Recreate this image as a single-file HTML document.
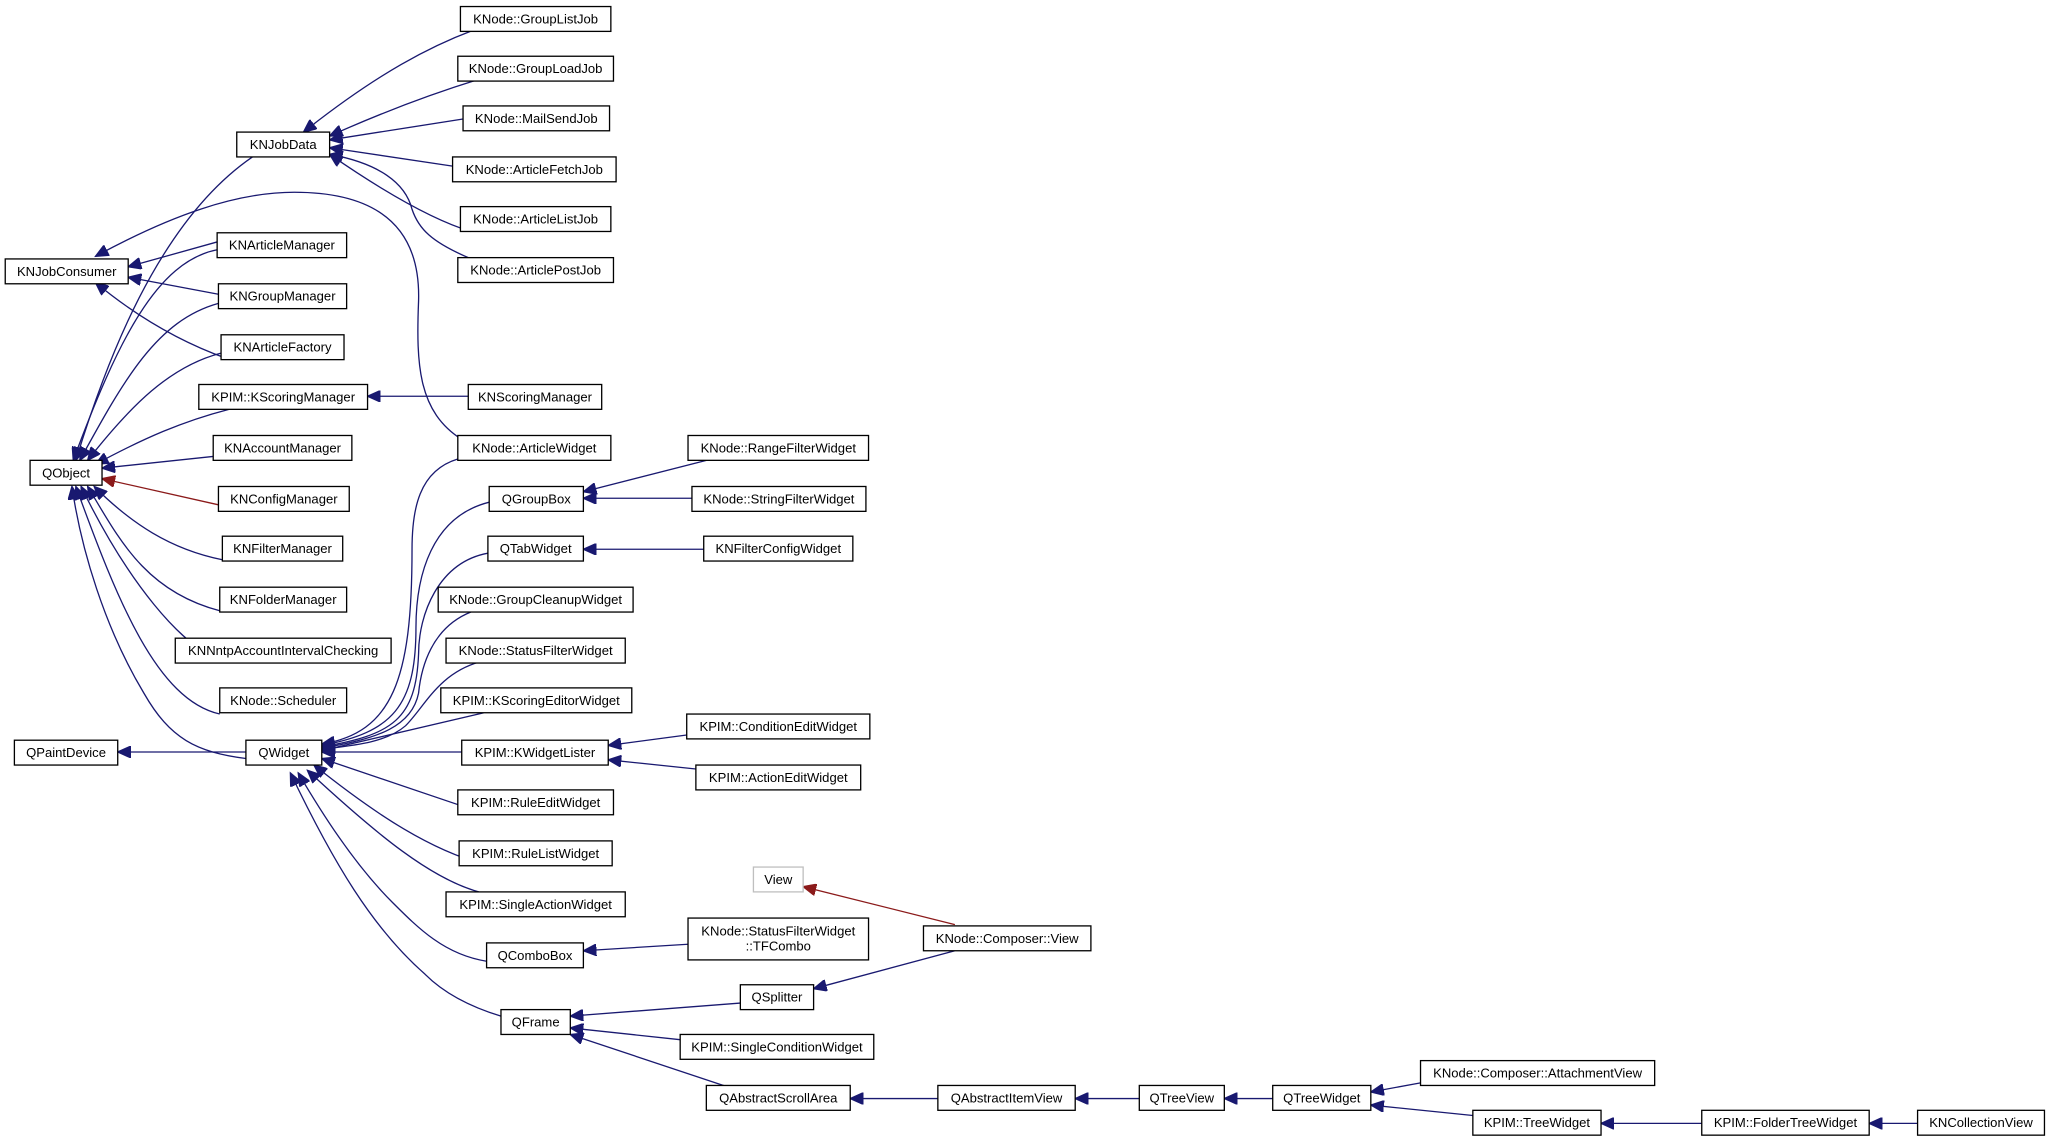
<!DOCTYPE html>
<html><head><meta charset="utf-8"><style>
html,body{margin:0;padding:0;background:#fff;}
svg{display:block;}
text{font-family:"Liberation Sans",Arial,sans-serif;font-size:10px;text-anchor:middle;dominant-baseline:central;fill:#000;}
rect{fill:#fff;stroke:#000;stroke-width:1;}
path{fill:none;stroke:#191970;stroke-width:1;}
path.r{stroke:#8b1a1a;}
</style></head><body>
<svg width="2051" height="1143" viewBox="0 0 1568 874" preserveAspectRatio="none" xmlns="http://www.w3.org/2000/svg">
<defs>
<marker id="a" markerUnits="userSpaceOnUse" markerWidth="11" markerHeight="9" refX="10" refY="4.5" orient="auto"><path d="M0,0 L10,4.5 L0,9 z" style="fill:#191970;stroke:#191970"/></marker>
<marker id="ar" markerUnits="userSpaceOnUse" markerWidth="11" markerHeight="9" refX="10" refY="4.5" orient="auto"><path d="M0,0 L10,4.5 L0,9 z" style="fill:#8b1a1a;stroke:#8b1a1a"/></marker>
</defs>
<g marker-end="url(#a)">
<path d="M362,23 C330,35 290,55 232,101" marker-end="url(#a)"/>
<path d="M365,61 Q310,78 252,104" marker-end="url(#a)"/>
<path d="M354,91 L252,107" marker-end="url(#a)"/>
<path d="M346,127 L252,113" marker-end="url(#a)"/>
<path d="M360,177 Q320,165 252,118" marker-end="url(#a)"/>
<path d="M358,197 C330,185 320,175 315,160 C310,140 290,125 252,118" marker-end="url(#a)"/>
<path d="M193,120 C120,170 80,280 58,352" marker-end="url(#a)"/>
<path d="M166,185 L98,204" marker-end="url(#a)"/>
<path d="M167,225 L98,212" marker-end="url(#a)"/>
<path d="M173,274 Q120,255 73,216" marker-end="url(#a)"/>
<path d="M353,336 C320,315 318,280 320,230 C322,160 270,147 225,147 C180,147 130,165 73,196" marker-end="url(#a)"/>
<path d="M166,191 C120,200 90,260 56,352" marker-end="url(#a)"/>
<path d="M167,232 C120,245 95,290 61,352" marker-end="url(#a)"/>
<path d="M169,270 C130,280 100,310 67,352" marker-end="url(#a)"/>
<path d="M175,313 C140,322 110,335 73,355" marker-end="url(#a)"/>
<path d="M163,349 L78,358" marker-end="url(#a)"/>
<path class="r" d="M167,386 L78,366" marker-end="url(#ar)"/>
<path d="M170,428 C130,420 100,400 72,372" marker-end="url(#a)"/>
<path d="M168,467 C110,452 90,410 67,372" marker-end="url(#a)"/>
<path d="M175,506 C140,500 95,440 62,372" marker-end="url(#a)"/>
<path d="M168,546 C120,535 90,460 58,372" marker-end="url(#a)"/>
<path d="M188,580 C150,575 130,565 110,530 C80,480 62,420 55,372" marker-end="url(#a)"/>
<path d="M358,303 L281,303" marker-end="url(#a)"/>
<path d="M188,575 L90,575" marker-end="url(#a)"/>
<path d="M350,351 C320,360 315,390 315,420 C315,520 300,560 246,569" marker-end="url(#a)"/>
<path d="M374,384 C330,395 318,440 318,480 C318,540 300,560 246,570" marker-end="url(#a)"/>
<path d="M373,423 C335,430 320,470 320,500 C318,550 300,562 246,571" marker-end="url(#a)"/>
<path d="M360,468 C330,480 322,510 320,530 C315,555 290,565 246,572" marker-end="url(#a)"/>
<path d="M367,506 C335,515 325,540 310,555 C295,568 270,570 246,573" marker-end="url(#a)"/>
<path d="M370,545 L246,574" marker-end="url(#a)"/>
<path d="M353,575 L246,575" marker-end="url(#a)"/>
<path d="M370,622 L246,580" marker-end="url(#a)"/>
<path d="M370,661 C330,650 290,625 240,585" marker-end="url(#a)"/>
<path d="M366,682 C330,672 290,640 235,589" marker-end="url(#a)"/>
<path d="M372,735 C340,730 320,710 300,690 C270,660 245,620 228,591" marker-end="url(#a)"/>
<path d="M383,777 C360,770 340,760 325,745 C285,710 255,660 222,591" marker-end="url(#a)"/>
<path d="M540,352 L446,376" marker-end="url(#a)"/>
<path d="M529,381 L446,381" marker-end="url(#a)"/>
<path d="M538,420 L446,420" marker-end="url(#a)"/>
<path d="M525,562 L465,570" marker-end="url(#a)"/>
<path d="M532,588 L465,581" marker-end="url(#a)"/>
<path d="M526,722 L446,727" marker-end="url(#a)"/>
<path d="M566,767 L436,777" marker-end="url(#a)"/>
<path d="M520,795 L436,786" marker-end="url(#a)"/>
<path d="M556,831 L436,791" marker-end="url(#a)"/>
<path class="r" d="M730,707 L614,678" marker-end="url(#ar)"/>
<path d="M730,727 L622,756" marker-end="url(#a)"/>
<path d="M717,840 L650,840" marker-end="url(#a)"/>
<path d="M871,840 L822,840" marker-end="url(#a)"/>
<path d="M973,840 L936,840" marker-end="url(#a)"/>
<path d="M1086,828 L1048,835" marker-end="url(#a)"/>
<path d="M1126,853 L1048,845" marker-end="url(#a)"/>
<path d="M1301,859 L1224,859" marker-end="url(#a)"/>
<path d="M1466,859 L1429,859" marker-end="url(#a)"/>
</g>
<g>
<rect x="352" y="5" width="115" height="19"/><text x="409.5" y="14.5">KNode::GroupListJob</text>
<rect x="350" y="43" width="119" height="19"/><text x="409.5" y="52.5">KNode::GroupLoadJob</text>
<rect x="354" y="81" width="112" height="19"/><text x="410" y="90.5">KNode::MailSendJob</text>
<rect x="346" y="120" width="125" height="19"/><text x="408.5" y="129.5">KNode::ArticleFetchJob</text>
<rect x="352" y="158" width="115" height="19"/><text x="409.5" y="167.5">KNode::ArticleListJob</text>
<rect x="350" y="197" width="119" height="19"/><text x="409.5" y="206.5">KNode::ArticlePostJob</text>
<rect x="181" y="101" width="71" height="19"/><text x="216.5" y="110.5">KNJobData</text>
<rect x="4" y="198" width="94" height="19"/><text x="51" y="207.5">KNJobConsumer</text>
<rect x="166" y="178" width="99" height="19"/><text x="215.5" y="187.5">KNArticleManager</text>
<rect x="167" y="217" width="98" height="19"/><text x="216" y="226.5">KNGroupManager</text>
<rect x="169" y="256" width="94" height="19"/><text x="216" y="265.5">KNArticleFactory</text>
<rect x="152" y="294" width="129" height="19"/><text x="216.5" y="303.5">KPIM::KScoringManager</text>
<rect x="358" y="294" width="102" height="19"/><text x="409" y="303.5">KNScoringManager</text>
<rect x="163" y="333" width="106" height="19"/><text x="216" y="342.5">KNAccountManager</text>
<rect x="23" y="352" width="55" height="19"/><text x="50.5" y="361.5">QObject</text>
<rect x="167" y="372" width="100" height="19"/><text x="217" y="381.5">KNConfigManager</text>
<rect x="170" y="410" width="92" height="19"/><text x="216" y="419.5">KNFilterManager</text>
<rect x="168" y="449" width="97" height="19"/><text x="216.5" y="458.5">KNFolderManager</text>
<rect x="134" y="488" width="165" height="19"/><text x="216.5" y="497.5">KNNntpAccountIntervalChecking</text>
<rect x="168" y="526" width="97" height="19"/><text x="216.5" y="535.5">KNode::Scheduler</text>
<rect x="11" y="566" width="79" height="19"/><text x="50.5" y="575.5">QPaintDevice</text>
<rect x="188" y="566" width="58" height="19"/><text x="217" y="575.5">QWidget</text>
<rect x="350" y="333" width="117" height="19"/><text x="408.5" y="342.5">KNode::ArticleWidget</text>
<rect x="374" y="372" width="72" height="19"/><text x="410" y="381.5">QGroupBox</text>
<rect x="373" y="410" width="73" height="19"/><text x="409.5" y="419.5">QTabWidget</text>
<rect x="335" y="449" width="149" height="19"/><text x="409.5" y="458.5">KNode::GroupCleanupWidget</text>
<rect x="341" y="488" width="137" height="19"/><text x="409.5" y="497.5">KNode::StatusFilterWidget</text>
<rect x="337" y="526" width="146" height="19"/><text x="410" y="535.5">KPIM::KScoringEditorWidget</text>
<rect x="353" y="566" width="112" height="19"/><text x="409" y="575.5">KPIM::KWidgetLister</text>
<rect x="350" y="604" width="119" height="19"/><text x="409.5" y="613.5">KPIM::RuleEditWidget</text>
<rect x="351" y="643" width="117" height="19"/><text x="409.5" y="652.5">KPIM::RuleListWidget</text>
<rect x="341" y="682" width="137" height="19"/><text x="409.5" y="691.5">KPIM::SingleActionWidget</text>
<rect x="372" y="721" width="74" height="19"/><text x="409" y="730.5">QComboBox</text>
<rect x="383" y="772" width="53" height="19"/><text x="409.5" y="781.5">QFrame</text>
<rect x="526" y="333" width="138" height="19"/><text x="595" y="342.5">KNode::RangeFilterWidget</text>
<rect x="529" y="372" width="133" height="19"/><text x="595.5" y="381.5">KNode::StringFilterWidget</text>
<rect x="538" y="410" width="114" height="19"/><text x="595" y="419.5">KNFilterConfigWidget</text>
<rect x="525" y="546" width="140" height="19"/><text x="595" y="555.5">KPIM::ConditionEditWidget</text>
<rect x="532" y="585" width="126" height="19"/><text x="595" y="594.5">KPIM::ActionEditWidget</text>
<rect x="576" y="663" width="38" height="19" style="stroke:#bfbfbf"/><text x="595" y="672.5">View</text>
<rect x="526" y="702" width="138" height="32"/><text x="595" y="712">KNode::StatusFilterWidget</text><text x="595" y="723.5">::TFCombo</text>
<rect x="566" y="753" width="56" height="19"/><text x="594" y="762.5">QSplitter</text>
<rect x="520" y="791" width="148" height="19"/><text x="594" y="800.5">KPIM::SingleConditionWidget</text>
<rect x="540" y="830" width="110" height="19"/><text x="595" y="839.5">QAbstractScrollArea</text>
<rect x="706" y="708" width="128" height="19"/><text x="770" y="717.5">KNode::Composer::View</text>
<rect x="717" y="830" width="105" height="19"/><text x="769.5" y="839.5">QAbstractItemView</text>
<rect x="871" y="830" width="65" height="19"/><text x="903.5" y="839.5">QTreeView</text>
<rect x="973" y="830" width="75" height="19"/><text x="1010.5" y="839.5">QTreeWidget</text>
<rect x="1086" y="811" width="179" height="19"/><text x="1175.5" y="820.5">KNode::Composer::AttachmentView</text>
<rect x="1126" y="849" width="98" height="19"/><text x="1175" y="858.5">KPIM::TreeWidget</text>
<rect x="1301" y="849" width="128" height="19"/><text x="1365" y="858.5">KPIM::FolderTreeWidget</text>
<rect x="1466" y="849" width="97" height="19"/><text x="1514.5" y="858.5">KNCollectionView</text>
</g>
</svg>
</body></html>
